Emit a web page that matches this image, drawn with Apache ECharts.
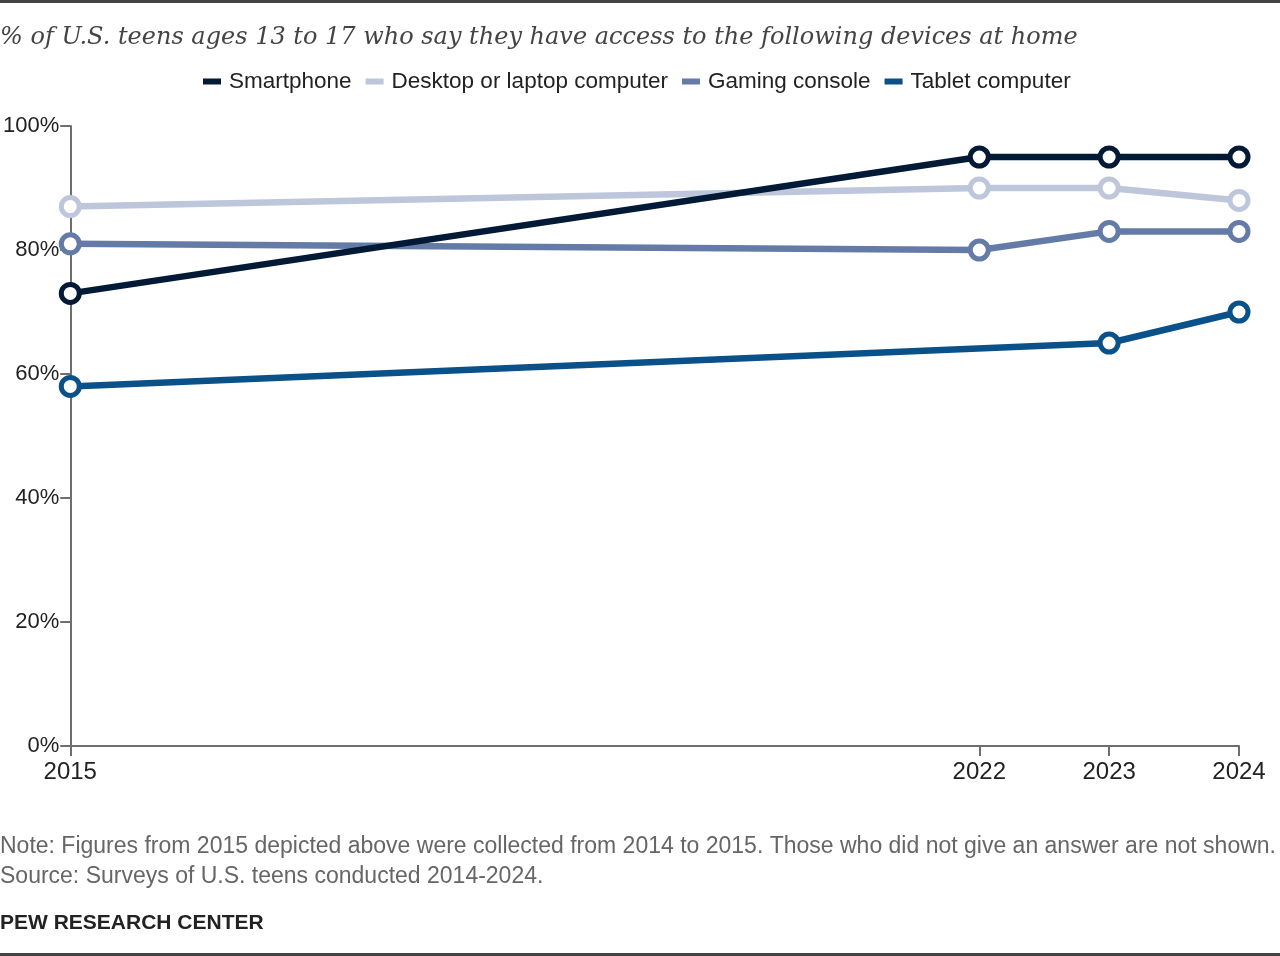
<!DOCTYPE html>
<html>
<head>
<meta charset="utf-8">
<script src="https://cdn.jsdelivr.net/npm/echarts@6/dist/echarts.min.js"></script>
<style>
  html, body { margin: 0; padding: 0; background: #fff; }
  #main { width: 1280px; height: 956px; }
</style>
</head>
<body>
<div id="main"></div>
<script>
// survey years
var years = [2015, 2022, 2023, 2024];
// % of teens with access (null = not asked that year)
var smartphone = [73, 95, 95, 95];
var desktop = [87, 90, 90, 88];
var gaming = [81, 80, 83, 83];
var tablet = [58, null, 65, 70];
var yTicks = [0, 20, 40, 60, 80, 100];

var names = ['Smartphone', 'Desktop or laptop computer', 'Gaming console', 'Tablet computer'];
var colors = ['#031a36', '#bdc6da', '#647ba8', '#0b5189'];
var values = [smartphone, desktop, gaming, tablet];

var chart = echarts.init(document.getElementById('main'));

//把年份和数值拼成 [x, y]，跳过空值
var toPairs = function(vals){
  var out = [];
  for (var i = 0; i < years.length; i++) {
    if (vals[i] !== null) out.push([years[i], vals[i]]);
  }
  return out;
};

var series = names.map(function(n, i){
  return {
    name: n,
    type: 'line',
    data: toPairs(values[i]),
    symbol: 'circle',
    symbolSize: 18,
    showAllSymbol: true,
    color: colors[i],
    lineStyle: { color: colors[i], width: 6.5 },
    itemStyle: { color: '#fff', borderColor: colors[i], borderWidth: 5 },
    emphasis: { disabled: true },
    z: 10 - i
  };
});

var labelFont = 'Liberation Sans, Arial, sans-serif';

chart.setOption({
  animation: false,
  title: [{
    text: '% of U.S. teens ages 13 to 17 who say they have access to the following devices at home',
    left: 0, top: 26, padding: 0,
    textStyle: { fontFamily: 'DejaVu Serif, Georgia, serif', fontStyle: 'italic', fontWeight: 'normal', fontSize: 24, color: '#444' }
  }, {
    text: 'Note: Figures from 2015 depicted above were collected from 2014 to 2015. Those who did not give an answer are not shown.',
    left: 0, top: 835, padding: 0,
    textStyle: { fontFamily: labelFont, fontWeight: 'normal', fontSize: 23, color: '#666' }
  }, {
    text: 'Source: Surveys of U.S. teens conducted 2014-2024.',
    left: 0, top: 865, padding: 0,
    textStyle: { fontFamily: labelFont, fontWeight: 'normal', fontSize: 23, color: '#666' }
  }, {
    text: 'PEW RESEARCH CENTER',
    left: 0, top: 913, padding: 0,
    textStyle: { fontFamily: labelFont, fontWeight: 'bold', fontSize: 21, color: '#222' }
  }],
  legend: {
    top: 65, left: 198,
    icon: 'rect', itemWidth: 18, itemHeight: 6, itemGap: 14,
    textStyle: { fontFamily: labelFont, fontSize: 22.5, color: '#222', padding: [0, 0, 0, 3] },
    data: names.map(function(n, i){ return { name: n, itemStyle: { color: colors[i], borderWidth: 0 } }; }),
    selectedMode: false
  },
  grid: { left: 69, right: 41, top: 126, bottom: 210, containLabel: false },
  xAxis: {
    type: 'value', min: 2015, max: 2024,
    axisLine: { show: true, lineStyle: { color: '#6e6e6e', width: 2 } },
    axisTick: { show: true, length: 10, lineStyle: { color: '#6e6e6e', width: 2 }, customValues: years },
    axisLabel: { customValues: years, fontFamily: labelFont, fontSize: 24, color: '#222', margin: 14, formatter: function(v){ return String(v); } },
    splitLine: { show: false }
  },
  yAxis: {
    type: 'value', min: 0, max: 100, interval: 20,
    axisLine: { show: true, lineStyle: { color: '#6e6e6e', width: 2 } },
    axisTick: { show: true, length: 10, lineStyle: { color: '#6e6e6e', width: 2 } },
    axisLabel: { fontFamily: labelFont, fontSize: 22, color: '#222', margin: 11, formatter: '{value}%', verticalAlign: 'middle', padding: [2, 0, 0, 0] },
    splitLine: { show: false }
  },
  graphic: [
    { type: 'rect', left: 0, top: 0, shape: { width: 1280, height: 3 }, style: { fill: '#444' } },
    { type: 'rect', left: 0, top: 953, shape: { width: 1280, height: 3 }, style: { fill: '#444' } }
  ],
  series: series
});
</script>
</body>
</html>
